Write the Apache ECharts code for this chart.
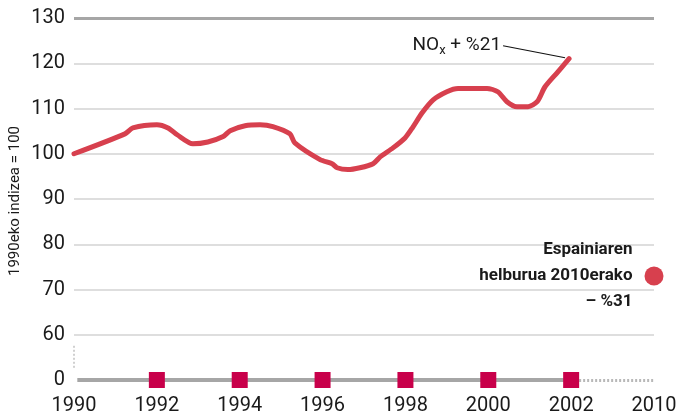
<!DOCTYPE html>
<html>
<head>
<meta charset="utf-8">
<script src="https://cdn.jsdelivr.net/npm/echarts@6/dist/echarts.min.js"></script>
<style>
  html, body { margin: 0; padding: 0; background: #fff; }
  #chart { width: 680px; height: 420px; }
</style>
</head>
<body>
<div id="chart"></div>
<script>
// NOx index, 1990 = 100
const years = [1990, 1991.23, 1991.42, 1992.0, 1992.27, 1992.49, 1992.87, 1993.23, 1993.6, 1993.77,
  1994.13, 1994.49, 1994.8, 1995.21, 1995.33, 1995.94, 1996.23, 1996.35, 1996.61, 1996.9,
  1997.22, 1997.39, 1997.7, 1997.99, 1998.18, 1998.4, 1998.67, 1999.0, 1999.27, 1999.97,
  2000.23, 2000.45, 2000.69, 2000.96, 2001.18, 2001.37, 2001.66, 2001.95];
const noxIndex = [100, 104.4, 105.7, 106.4, 105.7, 104.2, 102.2, 102.6, 103.8, 105.1,
  106.2, 106.4, 106, 104.4, 102.4, 98.7, 97.8, 96.9, 96.5, 96.9,
  97.8, 99.3, 101.3, 103.5, 105.9, 109, 111.9, 113.7, 114.4, 114.4,
  113.7, 111.5, 110.4, 110.4, 111.5, 114.8, 117.9, 121];
const markerYears = [1992, 1994, 1996, 1998, 2000, 2002];

// broken axes: x 2004 is drawn as "2010", y 50 is drawn as "0"
const xBreak = 2004, xBreakLabel = '2010';
const yBreak = 50, yBreakLabel = '0';
const targetValue = 73;
const targetText = 'Espainiaren\nhelburua 2010erako\n– %31';
const yName = '1990eko indizea = 100';

const RED = '#d7404e';
const CRIMSON = '#c8004a';
const GRAY = '#a6a6a6';
const TXT = '#1a1a1a';
const FONT = 'Roboto';

const chart = echarts.init(document.getElementById('chart'));

const splitColors = ['transparent', '#dedede', '#dedede', '#dedede', '#dedede', '#dedede', '#dedede', '#dedede', 'transparent'];

chart.setOption({
  animation: false,
  textStyle: { fontFamily: FONT },
  grid: { left: 74, right: 26, top: 18, bottom: 40, containLabel: false, outerBoundsMode: 'none' },
  xAxis: {
    type: 'value', min: 1990, max: xBreak, interval: 2,
    axisLine: { show: false }, axisTick: { show: false }, splitLine: { show: false },
    axisLabel: {
      color: TXT, fontSize: 20, margin: 16,
      formatter: v => v === xBreak ? xBreakLabel : String(v)
    }
  },
  yAxis: {
    type: 'value', min: yBreak, max: 130, interval: 10,
    axisLine: { show: false }, axisTick: { show: false },
    axisLabel: {
      color: TXT, fontSize: 20, margin: 9,
      formatter: v => v === yBreak ? yBreakLabel : String(v)
    },
    splitLine: { lineStyle: { color: splitColors, width: 2 } }
  },
  series: [
    {
      type: 'line', silent: true, z: 1,
      data: [],
      markLine: {
        silent: true, symbol: 'none', label: { show: false }, z: 1,
        data: [
          [{ coord: [1990, 130], lineStyle: { color: GRAY, width: 3, type: 'solid' } }, { coord: [xBreak, 130] }],
          [{ coord: [1990.08, yBreak], lineStyle: { color: GRAY, width: 4, type: 'solid' } }, { coord: [2002, yBreak] }],
          [{ coord: [2002, yBreak], lineStyle: { color: '#b8b8b8', width: 3, type: [2, 2] } }, { coord: [xBreak, yBreak] }],
          [{ coord: [1990, 52.7], lineStyle: { color: '#d0d0d0', width: 2, type: [2, 2] } }, { coord: [1990, 57.7] }]
        ]
      }
    },
    {
      type: 'line', silent: true, z: 3,
      data: years.map((y, i) => [y, noxIndex[i]]),
      showSymbol: false, smooth: 0.25,
      lineStyle: { color: RED, width: 5, cap: 'round', join: 'round' }
    },
    {
      type: 'scatter', silent: true, z: 10,
      data: markerYears.map(y => [y, yBreak]),
      symbol: 'rect', symbolSize: [16, 16],
      itemStyle: { color: CRIMSON, opacity: 1 }
    },
    {
      type: 'scatter', silent: true, z: 10,
      data: [[xBreak, targetValue]],
      symbol: 'circle', symbolSize: 19,
      itemStyle: { color: RED, opacity: 1 },
      label: {
        show: true, position: 'left', distance: 12,
        formatter: targetText,
        color: TXT, fontSize: 17, fontWeight: 'bold', lineHeight: 26, align: 'right'
      }
    }
  ]
});

// leader label for the last point + rotated y-axis title
const end = chart.convertToPixel({ gridIndex: 0 }, [years[years.length - 1], noxIndex[noxIndex.length - 1]]);
const mid = chart.convertToPixel({ gridIndex: 0 }, [1990, 90]);
chart.setOption({
  graphic: [
    {
      type: 'line', silent: true,
      shape: { x1: end[0] - 66, y1: end[1] - 13, x2: end[0] - 4, y2: end[1] - 1 },
      style: { stroke: '#111', lineWidth: 1.2 }
    },
    {
      type: 'text', silent: true,
      x: end[0] - 68, y: end[1] - 13,
      style: {
        text: '{a|NO}{s|x}{a| + %21}',
        align: 'right', verticalAlign: 'middle',
        rich: {
          a: { fontSize: 19, fontFamily: FONT, fill: TXT },
          s: { fontSize: 13, fontFamily: FONT, fill: TXT, padding: [10, 0, 0, 0] }
        }
      }
    },
    {
      type: 'text', silent: true,
      x: 15, y: mid[1] + 2, rotation: Math.PI / 2,
      style: {
        text: yName, align: 'center', verticalAlign: 'middle',
        fontSize: 15, fontFamily: FONT, fill: TXT
      }
    }
  ]
});
</script>
</body>
</html>
